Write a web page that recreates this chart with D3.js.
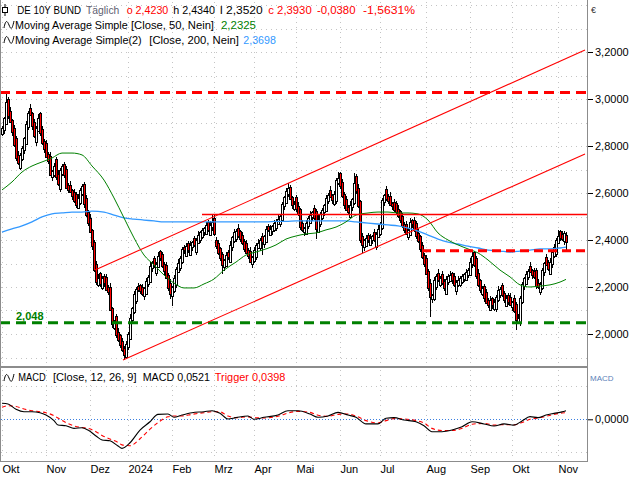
<!DOCTYPE html>
<html><head><meta charset="utf-8">
<script src="https://cdn.jsdelivr.net/npm/d3@7"></script>
<style>
body{margin:0;background:#fff;}
svg{display:block;font-family:"Liberation Sans",Arial,sans-serif;}
</style>
</head><body>
<svg id="c" width="640" height="480"></svg>
<script>
// ---------------- DATA ----------------
const monthTickIdx = [0,22,44,63,85,106,126,147,169,189,212,234,255,278];
const monthLabels  = ["Okt","Nov","Dez","2024","Feb","Mrz","Apr","Mai","Jun","Jul","Aug","Sep","Okt","Nov"];
const priceTicks = [2.0,2.2,2.4,2.6,2.8,3.0,3.2];

const closes = [
2.877,2.919,2.987,2.928,2.902,2.860,2.804,2.749,2.728,2.762,
2.791,2.834,2.894,2.940,2.932,2.885,2.843,2.877,2.919,2.855,
2.813,2.787,2.753,2.736,2.677,2.694,2.715,2.668,2.638,2.698,
2.715,2.677,2.621,2.612,2.604,2.587,2.566,2.549,2.579,2.613,
2.630,2.553,2.506,2.472,2.434,2.374,2.272,2.221,2.238,2.213,
2.238,2.217,2.187,2.179,2.102,2.043,2.047,1.996,1.974,1.953,
1.932,1.911,1.957,2.000,2.068,2.111,2.170,2.191,2.187,2.183,
2.170,2.196,2.226,2.243,2.289,2.306,2.289,2.298,2.332,2.323,
2.289,2.268,2.238,2.196,2.170,2.200,2.238,2.277,2.302,2.323,
2.362,2.357,2.374,2.357,2.379,2.391,2.379,2.400,2.421,2.432,
2.443,2.451,2.464,2.443,2.464,2.477,2.426,2.374,2.345,2.323,
2.294,2.315,2.336,2.328,2.379,2.413,2.434,2.438,2.417,2.404,
2.387,2.362,2.345,2.332,2.306,2.328,2.357,2.379,2.387,2.400,
2.391,2.417,2.447,2.443,2.447,2.460,2.472,2.481,2.489,2.502,
2.553,2.583,2.609,2.621,2.574,2.549,2.553,2.532,2.511,2.455,
2.443,2.451,2.472,2.494,2.506,2.519,2.494,2.447,2.489,2.511,
2.528,2.549,2.579,2.591,2.582,2.570,2.596,2.655,2.664,2.630,
2.587,2.549,2.528,2.519,2.549,2.574,2.643,2.609,2.545,2.400,
2.379,2.400,2.409,2.400,2.409,2.417,2.400,2.426,2.447,2.468,
2.570,2.591,2.574,2.566,2.549,2.545,2.528,2.519,2.502,2.485,
2.460,2.443,2.426,2.443,2.477,2.468,2.443,2.417,2.396,2.362,
2.328,2.298,2.255,2.196,2.157,2.166,2.230,2.247,2.230,2.238,
2.217,2.196,2.234,2.247,2.251,2.230,2.209,2.221,2.230,2.238,
2.246,2.255,2.264,2.272,2.306,2.332,2.294,2.247,2.209,2.187,
2.196,2.153,2.132,2.123,2.145,2.123,2.136,2.157,2.187,2.191,
2.166,2.145,2.153,2.136,2.123,2.136,2.098,2.060,2.068,2.153,
2.213,2.238,2.255,2.268,2.264,2.251,2.243,2.204,2.200,2.213,
2.272,2.302,2.294,2.277,2.306,2.349,2.370,2.400,2.417,2.409,
2.404,2.431,2.393];

const opens = [
2.850,2.867,2.894,3.001,2.950,2.910,2.876,2.832,2.761,2.708,
2.744,2.781,2.809,2.880,2.962,2.940,2.901,2.815,2.865,2.939,
2.873,2.823,2.812,2.767,2.758,2.669,2.678,2.743,2.680,2.618,
2.680,2.725,2.702,2.635,2.634,2.612,2.603,2.594,2.537,2.559,
2.595,2.640,2.578,2.520,2.494,2.442,2.390,2.300,2.209,2.258,
2.195,2.248,2.242,2.201,2.201,2.110,2.027,2.075,2.008,1.994,
1.971,1.942,1.901,1.943,1.978,2.060,2.095,2.142,2.203,2.207,
2.201,2.160,2.171,2.212,2.221,2.281,2.322,2.261,2.286,2.352,
2.341,2.299,2.293,2.252,2.218,2.162,2.184,2.210,2.265,2.282,
2.305,2.372,2.332,2.388,2.335,2.371,2.407,2.351,2.388,2.401,
2.414,2.433,2.426,2.478,2.421,2.456,2.493,2.402,2.386,2.365,
2.341,2.284,2.290,2.350,2.306,2.371,2.397,2.406,2.450,2.437,
2.422,2.397,2.387,2.359,2.354,2.298,2.312,2.329,2.367,2.367,
2.418,2.381,2.392,2.461,2.421,2.439,2.444,2.453,2.469,2.469,
2.484,2.543,2.558,2.595,2.626,2.582,2.533,2.581,2.544,2.531,
2.473,2.433,2.426,2.458,2.472,2.498,2.535,2.522,2.435,2.469,
2.493,2.518,2.524,2.565,2.613,2.590,2.554,2.568,2.643,2.684,
2.648,2.597,2.574,2.542,2.497,2.541,2.558,2.671,2.621,2.565,
2.418,2.369,2.375,2.423,2.378,2.401,2.433,2.372,2.414,2.427,
2.450,2.560,2.616,2.588,2.588,2.557,2.561,2.556,2.531,2.522,
2.503,2.470,2.468,2.412,2.421,2.485,2.484,2.471,2.429,2.416,
2.380,2.338,2.323,2.269,2.218,2.149,2.150,2.202,2.259,2.210,
2.256,2.227,2.171,2.220,2.225,2.259,2.246,2.181,2.209,2.210,
2.220,2.236,2.230,2.250,2.250,2.298,2.348,2.322,2.259,2.229,
2.169,2.206,2.178,2.146,2.101,2.153,2.107,2.108,2.145,2.167,
2.209,2.176,2.120,2.167,2.158,2.115,2.152,2.126,2.048,2.048,
2.135,2.203,2.213,2.241,2.290,2.272,2.267,2.271,2.216,2.180,
2.195,2.262,2.327,2.308,2.255,2.298,2.333,2.342,2.388,2.437,
2.427,2.394,2.423];

const highs = [
2.887,2.925,3.026,3.009,2.968,2.915,2.888,2.841,2.777,2.769,
2.801,2.840,2.908,2.948,2.980,2.945,2.913,2.886,2.935,2.946,
2.883,2.829,2.826,2.775,2.776,2.699,2.727,2.752,2.696,2.705,
2.725,2.731,2.716,2.643,2.652,2.617,2.615,2.603,2.595,2.620,
2.640,2.646,2.592,2.528,2.512,2.447,2.402,2.309,2.254,2.265,
2.248,2.254,2.256,2.209,2.219,2.115,2.059,2.084,2.024,2.001,
1.981,1.948,1.971,2.008,2.086,2.116,2.182,2.200,2.219,2.214,
2.211,2.202,2.240,2.251,2.307,2.311,2.334,2.307,2.348,2.359,
2.351,2.305,2.307,2.260,2.236,2.205,2.250,2.286,2.318,2.330,
2.372,2.378,2.388,2.396,2.397,2.396,2.419,2.409,2.437,2.439,
2.453,2.457,2.478,2.486,2.482,2.505,2.505,2.411,2.402,2.372,
2.351,2.321,2.350,2.358,2.397,2.418,2.446,2.447,2.466,2.444,
2.432,2.403,2.401,2.367,2.372,2.333,2.369,2.388,2.403,2.407,
2.428,2.423,2.461,2.469,2.465,2.465,2.484,2.490,2.505,2.509,
2.563,2.589,2.623,2.643,2.636,2.587,2.565,2.590,2.560,2.538,
2.483,2.457,2.486,2.502,2.524,2.524,2.547,2.531,2.505,2.518,
2.538,2.555,2.593,2.599,2.631,2.595,2.608,2.664,2.689,2.691,
2.658,2.603,2.588,2.550,2.567,2.579,2.685,2.680,2.637,2.572,
2.428,2.406,2.423,2.431,2.427,2.422,2.445,2.435,2.463,2.475,
2.580,2.597,2.630,2.596,2.606,2.562,2.573,2.565,2.547,2.529,
2.513,2.476,2.482,2.451,2.495,2.490,2.496,2.480,2.445,2.423,
2.390,2.344,2.337,2.277,2.236,2.171,2.242,2.256,2.275,2.245,
2.266,2.233,2.248,2.255,2.269,2.264,2.258,2.230,2.246,2.245,
2.256,2.261,2.278,2.280,2.324,2.350,2.352,2.331,2.275,2.236,
2.206,2.212,2.192,2.154,2.163,2.158,2.148,2.166,2.203,2.198,
2.219,2.182,2.167,2.175,2.176,2.141,2.164,2.135,2.084,2.160,
2.223,2.244,2.269,2.276,2.308,2.277,2.279,2.280,2.232,2.220,
2.282,2.308,2.341,2.316,2.324,2.354,2.382,2.409,2.442,2.444,
2.437,2.437,2.434];

const lows = [
2.842,2.852,2.888,2.917,2.897,2.843,2.795,2.736,2.721,2.696,
2.736,2.766,2.803,2.869,2.927,2.868,2.834,2.802,2.858,2.843,
2.805,2.772,2.747,2.725,2.672,2.652,2.669,2.655,2.631,2.606,
2.672,2.662,2.615,2.601,2.599,2.570,2.557,2.536,2.530,2.547,
2.587,2.538,2.500,2.461,2.429,2.357,2.263,2.208,2.202,2.201,
2.187,2.202,2.181,2.168,2.097,2.026,2.018,1.983,1.967,1.941,
1.924,1.889,1.895,1.932,1.973,2.043,2.086,2.129,2.180,2.171,
2.162,2.145,2.165,2.201,2.216,2.264,2.280,2.248,2.279,2.311,
2.281,2.253,2.232,2.185,2.150,2.118,2.175,2.197,2.258,2.270,
2.297,2.342,2.326,2.346,2.330,2.354,2.370,2.338,2.381,2.389,
2.406,2.418,2.420,2.432,2.416,2.439,2.417,2.361,2.338,2.311,
2.255,2.269,2.284,2.317,2.301,2.354,2.388,2.393,2.410,2.392,
2.379,2.347,2.339,2.321,2.301,2.281,2.303,2.316,2.360,2.355,
2.335,2.366,2.386,2.432,2.416,2.422,2.435,2.440,2.462,2.457,
2.476,2.528,2.552,2.584,2.569,2.532,2.524,2.519,2.504,2.443,
2.435,2.418,2.420,2.447,2.467,2.481,2.485,2.405,2.428,2.457,
2.485,2.503,2.518,2.554,2.577,2.553,2.545,2.555,2.636,2.618,
2.579,2.534,2.522,2.508,2.492,2.524,2.549,2.596,2.538,2.388,
2.345,2.354,2.369,2.389,2.373,2.384,2.391,2.359,2.407,2.415,
2.442,2.545,2.568,2.555,2.544,2.528,2.519,2.506,2.495,2.473,
2.452,2.428,2.420,2.401,2.416,2.451,2.434,2.404,2.389,2.350,
2.320,2.283,2.249,2.185,2.072,2.132,2.141,2.189,2.223,2.198,
2.209,2.181,2.165,2.209,2.220,2.213,2.200,2.168,2.202,2.198,
2.212,2.221,2.224,2.239,2.245,2.281,2.285,2.234,2.202,2.175,
2.161,2.138,2.126,2.112,2.096,2.106,2.098,2.095,2.138,2.155,
2.158,2.130,2.114,2.125,2.118,2.098,2.089,2.017,2.041,2.036,
2.127,2.188,2.207,2.230,2.259,2.234,2.234,2.191,2.193,2.168,
2.187,2.247,2.288,2.266,2.250,2.281,2.324,2.329,2.381,2.397,
2.396,2.379,2.352];

// Moving averages (read at sample bars)
const maIdx = [0,5,10,15,20,25,30,35,40,45,51,56,61,66,71,76,81,86,91,96,101,106,111,117,122,127,132,137,142,147,152,157,162,167,172,177,183,188,193,198,203,208,213,218,223,228,233,238,243,249,254,259,264,269,274,279,282];
const sma50 = [2.613,2.647,2.689,2.715,2.732,2.749,2.770,2.770,2.762,2.715,2.655,2.579,2.494,2.409,2.336,2.294,2.251,2.217,2.196,2.196,2.213,2.234,2.272,2.306,2.336,2.349,2.362,2.379,2.404,2.417,2.426,2.430,2.443,2.455,2.477,2.506,2.515,2.519,2.519,2.515,2.515,2.511,2.485,2.430,2.400,2.379,2.362,2.345,2.315,2.272,2.243,2.209,2.200,2.204,2.209,2.221,2.2325];
const sma200 = [2.434,2.447,2.460,2.477,2.498,2.511,2.515,2.519,2.519,2.523,2.519,2.506,2.494,2.489,2.485,2.481,2.477,2.477,2.477,2.477,2.477,2.477,2.477,2.477,2.477,2.477,2.477,2.479,2.479,2.481,2.481,2.481,2.481,2.481,2.481,2.477,2.472,2.468,2.464,2.460,2.451,2.438,2.421,2.404,2.391,2.383,2.374,2.366,2.357,2.353,2.349,2.353,2.357,2.362,2.362,2.366,2.3698];

// MACD (12,26,9) and trigger, read at sample bars
const macdIdx = [0,3,7,11,15,19,22,26,28,32,36,40,43,47,50,54,58,60,64,69,74,78,83,86,90,95,101,105,109,113,117,123,126,131,138,143,148,154,158,163,168,173,177,182,188,192,196,201,207,211,215,220,225,230,235,241,246,251,256,260,264,268,272,276,280,282];
const macdVals = [0.097,0.093,0.061,0.046,0.046,0.040,0.026,-0.008,-0.035,-0.039,-0.055,-0.051,-0.065,-0.101,-0.125,-0.130,-0.162,-0.176,-0.142,-0.065,-0.015,0.030,0.032,0.012,0.026,0.040,0.046,0.052,0.036,0.002,0.010,0.020,0.000,0.012,0.026,0.052,0.052,0.032,0.012,0.020,0.042,0.026,0.012,-0.028,-0.028,0.006,0.010,-0.004,-0.015,-0.039,-0.075,-0.075,-0.065,-0.045,-0.015,-0.028,-0.041,-0.028,-0.035,-0.010,0.016,0.010,0.026,0.036,0.045,0.0521];
const trigVals = [0.073,0.082,0.078,0.062,0.052,0.046,0.040,0.022,0.008,-0.020,-0.040,-0.050,-0.055,-0.075,-0.098,-0.120,-0.140,-0.155,-0.160,-0.118,-0.060,-0.020,0.015,0.020,0.020,0.030,0.040,0.046,0.045,0.020,0.010,0.015,0.010,0.008,0.018,0.038,0.048,0.042,0.025,0.018,0.030,0.032,0.020,-0.008,-0.022,-0.008,0.004,0.002,-0.008,-0.022,-0.055,-0.068,-0.068,-0.055,-0.030,-0.025,-0.035,-0.032,-0.033,-0.020,0.000,0.008,0.018,0.030,0.038,0.0398];

// Drawing tools
const topResistance = 3.028;     // red dashed
const supportLevel = 2.048;      // green dashed
const redSolidLevel = 2.509, redSolidStart = 100;
const redDashLevel = 2.354, redDashStart = 210;
const channelUpper = [[46.5, 2.272],[291.5, 3.2085]];
const channelLower = [[60.5, 1.889],[291.5, 2.766]];

// ---------------- CHART ----------------
const svg = d3.select("#c");
const plotR = 587, mainB = 367, macdT = 368, macdB = 461;
const N = closes.length;
const x = d3.scaleLinear().domain([0, 282]).range([2, 566]);
const y = d3.scaleLinear().domain([2.0, 3.2]).range([334, 52]);
const ym = d3.scaleLinear().domain([0, 0.1]).range([419.3, 402.8]);
const loc = d3.formatLocale({decimal:",", thousands:".", grouping:[3], currency:["","€"], minus:"-"});
const f4 = loc.format(".4f");
const f3 = loc.format(".3f");

const defs = svg.append("defs");
defs.append("clipPath").attr("id","clipMain").append("rect").attr("x",1).attr("y",0).attr("width",plotR-1).attr("height",mainB);
defs.append("clipPath").attr("id","clipMacd").append("rect").attr("x",1).attr("y",macdT).attr("width",plotR-1).attr("height",macdB-macdT);

// grid
const grid = svg.append("g").attr("stroke","#c4c4c4").attr("stroke-dasharray","1,4").attr("shape-rendering","crispEdges");
d3.range(1.9, 3.45, 0.1).forEach(v => {
  const yy = Math.round(y(v)) + 0.5;
  if (yy > 2 && yy < mainB - 1) grid.append("line").attr("x1",1).attr("x2",plotR).attr("y1",yy).attr("y2",yy);
});
monthTickIdx.forEach(i => {
  const xx = Math.round(x(i)) + 0.5;
  grid.append("line").attr("x1",xx).attr("x2",xx).attr("y1",2).attr("y2",mainB-1);
  grid.append("line").attr("x1",xx).attr("x2",xx).attr("y1",macdT+2).attr("y2",macdB-1);
});
[-0.2, 0.2].forEach(v => {
  const yy = Math.round(ym(v)) + 0.5;
  if (yy > macdT+2 && yy < macdB-1) grid.append("line").attr("x1",1).attr("x2",plotR).attr("y1",yy).attr("y2",yy);
});

// candles
const main = svg.append("g").attr("clip-path","url(#clipMain)");
const cg = main.append("g").attr("shape-rendering","crispEdges");
for (let i = 0; i < N; i++) {
  const cx = Math.round(x(i));
  const o = opens[i], c = closes[i];
  cg.append("line").attr("x1",cx+0.5).attr("x2",cx+0.5)
    .attr("y1",y(highs[i])).attr("y2",y(lows[i])).attr("stroke","#000");
  const top = Math.round(y(Math.max(o,c))), bot = Math.round(y(Math.min(o,c)));
  cg.append("rect").attr("x",cx-0.5).attr("y",top+0.5).attr("width",2).attr("height",Math.max(1,bot-top))
    .attr("fill", c < o ? "#ff0000" : "#ffffff").attr("stroke","#000").attr("stroke-width",1);
}

// moving averages
const maLine = vals => d3.line().curve(d3.curveMonotoneX).x((d,k)=>x(maIdx[k])).y(d=>y(d))(vals);
main.append("path").attr("d", maLine(sma200)).attr("fill","none").attr("stroke","#3399ff").attr("stroke-width",1.3);
main.append("path").attr("d", maLine(sma50)).attr("fill","none").attr("stroke","#008000").attr("stroke-width",1);

// drawing tools
main.append("line").attr("x1",0).attr("x2",plotR).attr("y1",y(topResistance)).attr("y2",y(topResistance))
  .attr("stroke","#ff0000").attr("stroke-width",3).attr("stroke-dasharray","10,6");
main.append("line").attr("x1",0).attr("x2",plotR).attr("y1",y(supportLevel)).attr("y2",y(supportLevel))
  .attr("stroke","#008000").attr("stroke-width",3).attr("stroke-dasharray","10,6");
main.append("line").attr("x1",x(redSolidStart)).attr("x2",plotR).attr("y1",y(redSolidLevel)).attr("y2",y(redSolidLevel))
  .attr("stroke","#ff0000").attr("stroke-width",1.5);
main.append("line").attr("x1",x(redDashStart)).attr("x2",plotR).attr("y1",y(redDashLevel)).attr("y2",y(redDashLevel))
  .attr("stroke","#ff0000").attr("stroke-width",3).attr("stroke-dasharray","9,5");
[channelUpper, channelLower].forEach(ch => {
  main.append("line").attr("x1",x(ch[0][0])).attr("y1",y(ch[0][1])).attr("x2",x(ch[1][0])).attr("y2",y(ch[1][1]))
    .attr("stroke","#ff0000").attr("stroke-width",1.1);
});
svg.append("text").attr("x",16).attr("y",y(supportLevel)-3).attr("fill","#008000")
  .attr("font-size","11px").attr("font-weight","bold").text(f3(supportLevel));

// MACD panel
const mg = svg.append("g").attr("clip-path","url(#clipMacd)");
mg.append("line").attr("x1",1).attr("x2",plotR).attr("y1",Math.round(ym(0))+0.5).attr("y2",Math.round(ym(0))+0.5)
  .attr("stroke","#3a7fe0").attr("stroke-dasharray","1,2");
const mLine = d3.line().curve(d3.curveMonotoneX).x((d,k)=>x(macdIdx[k])).y(d=>ym(d));
mg.append("path").attr("d", mLine(trigVals)).attr("fill","none").attr("stroke","#ff0000").attr("stroke-width",1.1).attr("stroke-dasharray","4,3");
mg.append("path").attr("d", mLine(macdVals)).attr("fill","none").attr("stroke","#000").attr("stroke-width",1.1);

// borders
const bd = svg.append("g").attr("stroke","#8c8c8c").attr("shape-rendering","crispEdges");
bd.append("line").attr("x1",0.5).attr("x2",0.5).attr("y1",0).attr("y2",macdB+0.5);
bd.append("line").attr("x1",plotR+0.5).attr("x2",plotR+0.5).attr("y1",0).attr("y2",macdB+0.5);
bd.append("line").attr("x1",0).attr("x2",plotR+1).attr("y1",mainB).attr("y2",mainB).attr("stroke-width",2);
bd.append("line").attr("x1",0).attr("x2",plotR+1).attr("y1",macdB+0.5).attr("y2",macdB+0.5);

// right axis (price)
const ay = svg.append("g").attr("transform",`translate(${plotR+1},0)`)
  .call(d3.axisRight(y).tickValues(priceTicks).tickSize(5).tickPadding(2).tickFormat(f4));
ay.select(".domain").remove();
ay.selectAll("text").attr("font-size","11px").attr("font-family","Liberation Sans, Arial, sans-serif").attr("fill","#000");
const am = svg.append("g").attr("transform",`translate(${plotR+1},0)`)
  .call(d3.axisRight(ym).tickValues([0]).tickSize(5).tickPadding(2).tickFormat(f4));
am.select(".domain").remove();
am.selectAll("text").attr("font-size","11px").attr("font-family","Liberation Sans, Arial, sans-serif").attr("fill","#000");
svg.append("text").attr("x",591).attr("y",13).attr("font-size","9px").attr("fill","#333").text("€");
svg.append("text").attr("x",590).attr("y",381).attr("font-size","8px").attr("fill","#5a7fb8").text("MACD");

// bottom axis labels
const ax = svg.append("g").attr("transform",`translate(0,${macdB})`)
  .call(d3.axisBottom(x).tickValues(monthTickIdx).tickSize(0).tickPadding(4)
    .tickFormat((d,k)=>monthLabels[k]));
ax.select(".domain").remove();
ax.selectAll("text").attr("text-anchor","start").attr("font-size","11px").attr("dy","0.71em")
  .attr("font-family","Liberation Sans, Arial, sans-serif").attr("fill","#000");

// headers
const fs = "10.7px";
const hdr = (xx, yy, txt, col, len) => {
  const t = svg.append("text").attr("x",xx).attr("y",yy).attr("font-size",fs).attr("fill",col).text(txt);
  if (len) t.attr("textLength",len).attr("lengthAdjust","spacingAndGlyphs");
  return t;
};
// candle icon
svg.append("line").attr("x1",5).attr("x2",5).attr("y1",4).attr("y2",16).attr("stroke","#000");
svg.append("rect").attr("x",2.5).attr("y",7.5).attr("width",5).attr("height",5).attr("fill","#fff").attr("stroke","#000");
const last = N - 1;
const chg = closes[last] - closes[last-1];
hdr(17.3, 14, "DE 10Y BUND", "#000", 63.7);
hdr(86, 14, "Täglich", "#606070", 33.3);
hdr(126.7, 14, "o " + f4(opens[last]), "#ff0000", 41.6);
hdr(173.3, 14, "h " + f4(highs[last]), "#000", 41.7);
hdr(220, 14, "l " + f4(lows[last]), "#000", 42.7);
hdr(268.3, 14, "c " + f4(closes[last]), "#ff0000", 43.4);
hdr(317, 14, f4(chg), "#ff0000", 38.5);
hdr(363, 14, f4(chg / closes[last-1] * 100) + "%", "#ff0000", 52);
const wave = (xx, yy) => svg.append("path")
  .attr("d", `M${xx},${yy} C${xx+1.5},${yy-8} ${xx+3},${yy-8} ${xx+5},${yy-3} S${xx+8},${yy+2} ${xx+10},${yy-7}`)
  .attr("fill","none").attr("stroke","#000").attr("stroke-width",1);
wave(4, 28); wave(4, 43); wave(4, 381);
hdr(15, 29, "Moving Average Simple", "#000", 112.7);
hdr(131, 29, "[Close, 50, Nein]", "#000", 83);
hdr(221, 29, f4(sma50[sma50.length-1]), "#008000", 35);
hdr(15, 44, "Moving Average Simple(2)", "#000", 126.7);
hdr(149.3, 44, "[Close, 200, Nein]", "#000", 89.5);
hdr(243.3, 44, f4(sma200[sma200.length-1]), "#3399ff", 32.5);
hdr(18.3, 381, "MACD", "#000", 27.4);
hdr(53, 381, "[Close, 12, 26, 9]", "#000", 83.6);
hdr(142.7, 381, "MACD " + f4(macdVals[macdVals.length-1]), "#000", 67.3);
hdr(214.8, 381, "Trigger " + f4(trigVals[trigVals.length-1]), "#ff0000", 70.6);
</script>
</body></html>
